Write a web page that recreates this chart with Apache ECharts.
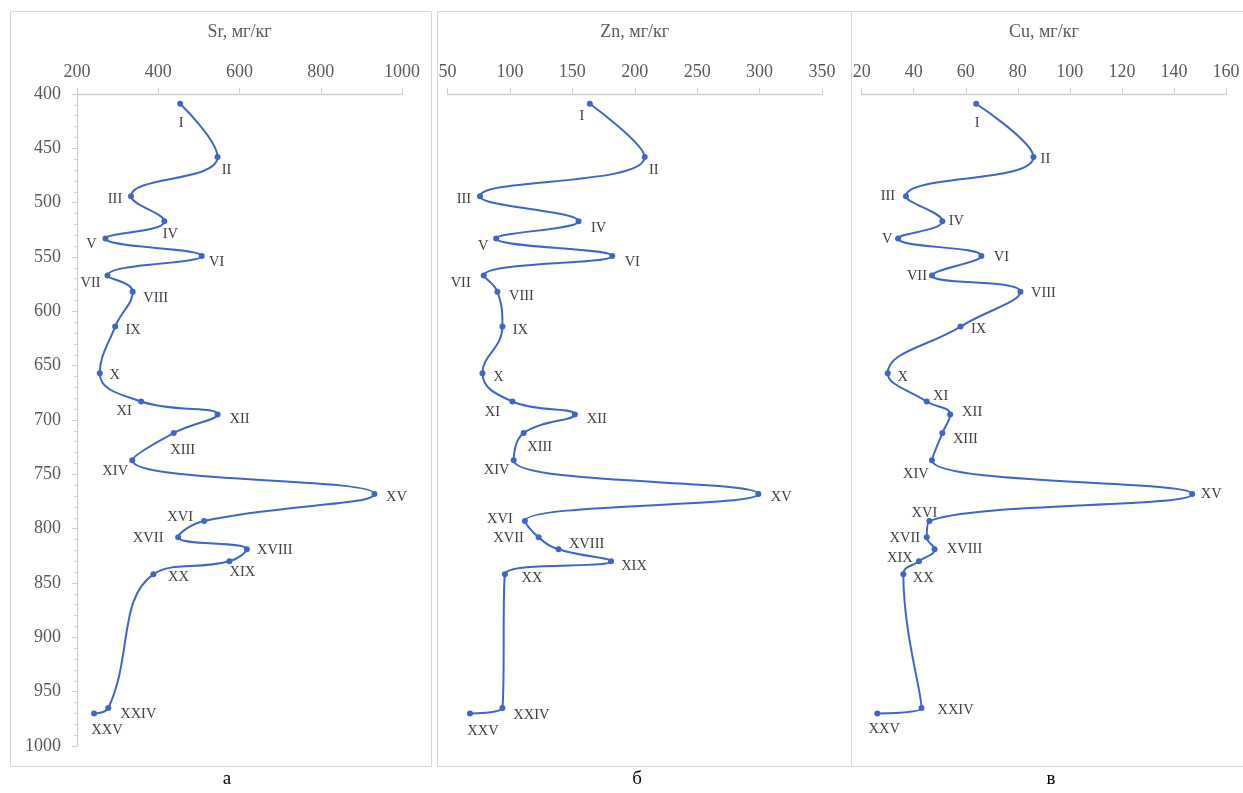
<!DOCTYPE html>
<html>
<head>
<meta charset="utf-8">
<script src="https://cdn.jsdelivr.net/npm/echarts@6/dist/echarts.min.js"></script>
<style>
html,body{margin:0;padding:0;background:#fff;}
#chart{width:1243px;height:793px;}
</style>
</head>
<body>
<div id="chart"></div>
<script>
// ---- data ----
const sampleLabels = ['I','II','III','IV','V','VI','VII','VIII','IX','X','XI','XII','XIII','XIV','XV','XVI','XVII','XVIII','XIX','XX','XXIV','XXV'];
const depth = [409,458,494,517,533,549,567,582,614,657,683,695,712,737,768,793,808,819,830,842,965,970];
const srValues = [454,546,333,415,270,507,275,337,294,256,358,546,438,336,932,513,449,618,575,388,277,242];
const znValues = [164,208,76,155,89,182,79,90,94,78,102,152,111,103,299,112,123,139,181,96,94,68];
const cuValues = [64,86,37,51,34,66,47,81,58,30,45,54,51,47,147,46,45,48,42,36,43,26];
const depthTicks = [400,450,500,550,600,650,700,750,800,850,900,950,1000];
const srTicks = [200,400,600,800,1000];
const znTicks = [50,100,150,200,250,300,350];
const cuTicks = [20,40,60,80,100,120,140,160];
const axisTitles = ['Sr, мг/кг','Zn, мг/кг','Cu, мг/кг'];
const panelCaptions = ['а','б','в'];

// ---- label placement (style) ----
const srOffsets = [[1,19],[9,13],[-16,3],[6,13],[-14,6],[15,6],[-17,8],[23,6],[18,4],[15,2],[-17,10],[22,5],[9,17],[-17,11],[22,3],[-24,-4],[-30,1],[28,1],[13,11],[25,3],[30,6],[13,17]];
const znOffsets = [[-8,12],[9,13],[-16,3],[20,7],[-13,8],[20,6],[-23,8],[24,4],[18,4],[16,4],[-20,11],[22,5],[16,14],[-17,10],[23,3],[-25,-2],[-30,1],[28,-5],[23,5],[27,4],[29,7],[13,18]];
const cuOffsets = [[1,19],[12,2],[-18,0],[14,0],[-11,1],[20,1],[-15,1],[23,1],[18,3],[15,4],[14,-5],[22,-2],[23,6],[-16,14],[19,0],[-5,-8],[-22,1],[30,0],[-19,-3],[20,4],[34,2],[7,16]];

const SERIF = '"Liberation Serif","Times New Roman",serif';
const BLUE = '#3f66c4';
const GRID_TOP = 94, GRID_H = 652;
const grids = [
  {left:77, width:325},
  {left:447.5, width:374.5},
  {left:861.7, width:364.3}
];
const panels = [
  {vals: srValues, ticks: srTicks, offs: srOffsets},
  {vals: znValues, ticks: znTicks, offs: znOffsets},
  {vals: cuValues, ticks: cuTicks, offs: cuOffsets}
];

const option = {
  backgroundColor:'#fff',
  animation:false,
  grid: grids.map(g => ({left:g.left, width:g.width, top:GRID_TOP, height:GRID_H, containLabel:false})),
  xAxis: panels.map((p,i) => ({
    type:'value', gridIndex:i, position:'top',
    min:p.ticks[0], max:p.ticks[p.ticks.length-1], interval:p.ticks[1]-p.ticks[0],
    name: axisTitles[i], nameLocation:'middle', nameGap:53,
    nameTextStyle:{fontFamily:SERIF, fontSize:18, color:'#595959'},
    axisLine:{show:true, lineStyle:{color:'#d0d0d0', width:1.3}},
    axisTick:{show:true, length:6, lineStyle:{color:'#d0d0d0'}},
    axisLabel:{fontFamily:SERIF, fontSize:18, color:'#595959', margin:13, formatter:(v)=>String(v)},
    splitLine:{show:false}
  })),
  yAxis: panels.map((p,i) => ({
    type:'value', gridIndex:i, inverse:true,
    min:depthTicks[0], max:depthTicks[depthTicks.length-1], interval:depthTicks[1]-depthTicks[0],
    show: i===0,
    axisLine:{show:true, lineStyle:{color:'#d0d0d0', width:1.3}},
    axisTick:{show:true, length:5, lineStyle:{color:'#d0d0d0'}},
    minorTick:{show:true, splitNumber:5, length:3, lineStyle:{color:'#d0d0d0'}},
    axisLabel:{fontFamily:SERIF, fontSize:18, color:'#595959', margin:16, formatter:(v)=>String(v)},
    splitLine:{show:false}
  })),
  title: panelCaptions.map((c,i) => ({
    text:c, left: [222,632,1046][i], top:765, textAlign:'center',
    textStyle:{fontFamily:SERIF, fontSize:19, fontWeight:'normal', color:'#000'}
  })),
  graphic: [
    {type:'rect', shape:{x:10.5,y:11.5,width:421,height:755}, style:{fill:'none', stroke:'#d9d9d9', lineWidth:1}, silent:true, z:-1},
    {type:'rect', shape:{x:437.5,y:11.5,width:414,height:755}, style:{fill:'none', stroke:'#d9d9d9', lineWidth:1}, silent:true, z:-1},
    {type:'rect', shape:{x:851.5,y:11.5,width:395,height:755}, style:{fill:'none', stroke:'#d9d9d9', lineWidth:1}, silent:true, z:-1}
  ],
  series: panels.map((p,i) => ({
    type:'line', xAxisIndex:i, yAxisIndex:i,
    smooth:0.45,
    symbol:'circle', symbolSize:6,
    itemStyle:{color:BLUE},
    lineStyle:{color:BLUE, width:2},
    label:{show:true, position:'inside', formatter:(d)=>d.name,
      fontFamily:SERIF, fontSize:14.5, color:'#404040'},
    data: p.vals.map((v,k) => ({
      name: sampleLabels[k], value:[v, depth[k]],
      label:{offset:p.offs[k]}
    }))
  }))
};

const chart = echarts.init(document.getElementById('chart'), null, {renderer:'canvas'});
chart.setOption(option);
</script>
</body>
</html>
